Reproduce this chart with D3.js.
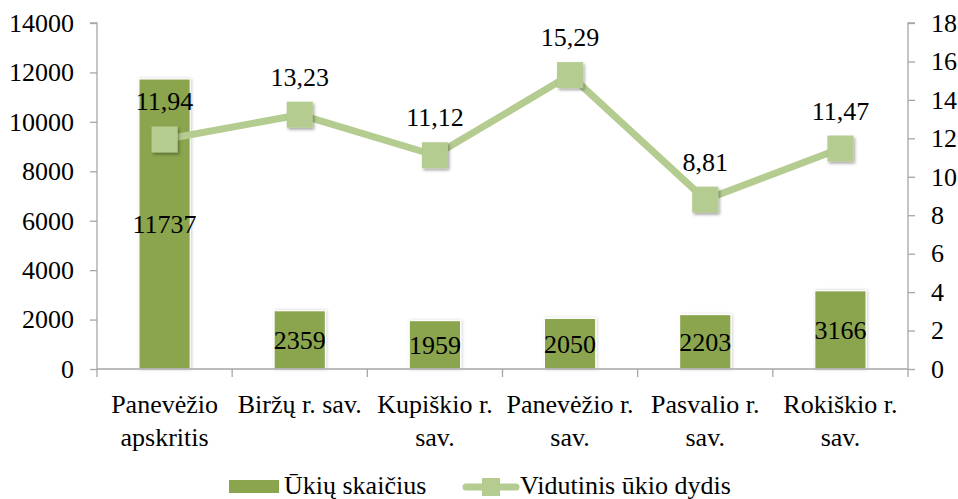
<!DOCTYPE html>
<html><head><meta charset="utf-8">
<script src="https://cdn.jsdelivr.net/npm/d3@7"></script>
<style>html,body{margin:0;padding:0;background:#fff;}svg{display:block;}</style>
</head><body>
<script>
const categories = [["Panevėžio","apskritis"],["Biržų r. sav."],["Kupiškio r.","sav."],["Panevėžio r.","sav."],["Pasvalio r.","sav."],["Rokiškio r.","sav."]];
const farms = [11737, 2359, 1959, 2050, 2203, 3166];
const avgSize = [11.94, 13.23, 11.12, 15.29, 8.81, 11.47];
const avgLabels = ["11,94","13,23","11,12","15,29","8,81","11,47"];
const leftTicks = [0,2000,4000,6000,8000,10000,12000,14000];
const rightTicks = [0,2,4,6,8,10,12,14,16,18];
const seriesNames = ["Ūkių skaičius","Vidutinis ūkio dydis"];

const W=958,H=499;
const m={left:97,right:50,top:23,bottom:130};
const font="Liberation Serif, Times New Roman, serif";
const fs=26;
const barColor="#8aa54e", lineColor="#b4cc8f", axisColor="#a6a6a6";

const svg=d3.select("body").append("svg").attr("width",W).attr("height",H)
  .attr("font-family",font);
const defs=svg.append("defs");
const f=defs.append("filter").attr("id","sh").attr("x","-30%").attr("y","-30%").attr("width","160%").attr("height","160%");
f.append("feDropShadow").attr("dx",1.5).attr("dy",2).attr("stdDeviation",1.5).attr("flood-color","#000").attr("flood-opacity",0.35);
const fb=defs.append("filter").attr("id","shb").attr("x","-20%").attr("y","-5%").attr("width","140%").attr("height","110%");
fb.append("feDropShadow").attr("dx",1).attr("dy",0).attr("stdDeviation",1.5).attr("flood-color","#000").attr("flood-opacity",0.2);

const x=d3.scaleBand().domain(d3.range(categories.length)).range([m.left,908]).paddingInner(0.62).paddingOuter(0.31);
const xb=d3.scaleBand().domain(d3.range(categories.length)).range([m.left,908]);
const yL=d3.scaleLinear().domain([0,14000]).range([369,23]);
const yR=d3.scaleLinear().domain([0,18]).range([369,23]);

// bars
svg.append("g").selectAll("rect").data(farms).join("rect")
  .attr("x",(d,i)=>x(i)).attr("width",x.bandwidth())
  .attr("y",d=>yL(d)).attr("height",d=>yL(0)-yL(d))
  .attr("fill",barColor).attr("stroke","#fff").attr("stroke-width",1.2)
  .attr("filter","url(#shb)");

// axes
const axL=svg.append("g").attr("transform",`translate(${m.left},0)`)
  .call(d3.axisLeft(yL).tickValues(leftTicks).tickSize(7).tickPadding(16).tickFormat(d3.format("d")));
const axR=svg.append("g").attr("transform",`translate(908,0)`)
  .call(d3.axisRight(yR).tickValues(rightTicks).tickSize(7).tickPadding(16).tickFormat(d3.format("d")));
const axB=svg.append("g").attr("transform",`translate(0,369)`)
  .call(d3.axisBottom(xb).tickSize(0).tickFormat(""));
svg.append("g").selectAll("line").data(d3.range(categories.length+1)).join("line")
  .attr("x1",i=>i<categories.length?xb(i):908).attr("x2",i=>i<categories.length?xb(i):908)
  .attr("y1",369).attr("y2",377).attr("stroke",axisColor).attr("stroke-width",1.3);
[axL,axR,axB].forEach(a=>{
  a.attr("font-family",font).attr("font-size",fs);
  a.selectAll("path,line").attr("stroke",axisColor).attr("stroke-width",1.3);
  a.selectAll("text").attr("font-family",font).attr("font-size",fs).attr("fill","#000");
});
axL.select(".domain").attr("d","M-7,23H0V369");
axR.select(".domain").attr("d","M7,23H0V369");
axB.select(".domain").attr("d","M97,0H908");

// category labels
const cl=svg.append("g").selectAll("text").data(categories).join("text")
  .attr("text-anchor","middle").attr("font-size",fs).attr("fill","#000")
  .attr("x",(d,i)=>xb(i)+xb.bandwidth()/2).attr("y",413);
cl.selectAll("tspan").data(d=>d).join("tspan")
  .attr("x",function(){return d3.select(this.parentNode).attr("x");})
  .attr("dy",(d,j)=>j===0?0:33).text(d=>d);

// bar labels
svg.append("g").selectAll("text").data(farms).join("text")
  .attr("x",(d,i)=>x(i)+x.bandwidth()/2).attr("y",d=>(yL(d)+yL(0))/2+9)
  .attr("text-anchor","middle").attr("font-size",fs).attr("fill","#000").text(d=>d);

// line
const cx=i=>xb(i)+xb.bandwidth()/2;
svg.append("path").datum(avgSize)
  .attr("d",d3.line().x((d,i)=>cx(i)).y(d=>yR(d)))
  .attr("fill","none").attr("stroke",lineColor).attr("stroke-width",7).attr("stroke-linejoin","round").attr("stroke-linecap","round");
svg.append("g").selectAll("rect").data(avgSize).join("rect")
  .attr("x",(d,i)=>cx(i)-13).attr("y",d=>yR(d)-13).attr("width",26).attr("height",26)
  .attr("fill",lineColor).attr("filter","url(#sh)");
svg.append("g").selectAll("text").data(avgSize).join("text")
  .attr("x",(d,i)=>cx(i)).attr("y",d=>yR(d)-29)
  .attr("text-anchor","middle").attr("font-size",fs).attr("fill","#000").text((d,i)=>avgLabels[i]);

// legend
const lg=svg.append("g");
lg.append("rect").attr("x",229).attr("y",480).attr("width",50).attr("height",13).attr("fill",barColor);
lg.append("text").attr("x",284).attr("y",494).attr("font-size",fs).text(seriesNames[0]);
lg.append("line").attr("x1",466).attr("x2",516).attr("y1",487).attr("y2",487).attr("stroke",lineColor).attr("stroke-width",7).attr("stroke-linecap","round");
lg.append("rect").attr("x",482).attr("y",478).attr("width",18).attr("height",18).attr("fill",lineColor);
lg.append("text").attr("x",520).attr("y",494).attr("font-size",fs).text(seriesNames[1]);
</script>
</body></html>
